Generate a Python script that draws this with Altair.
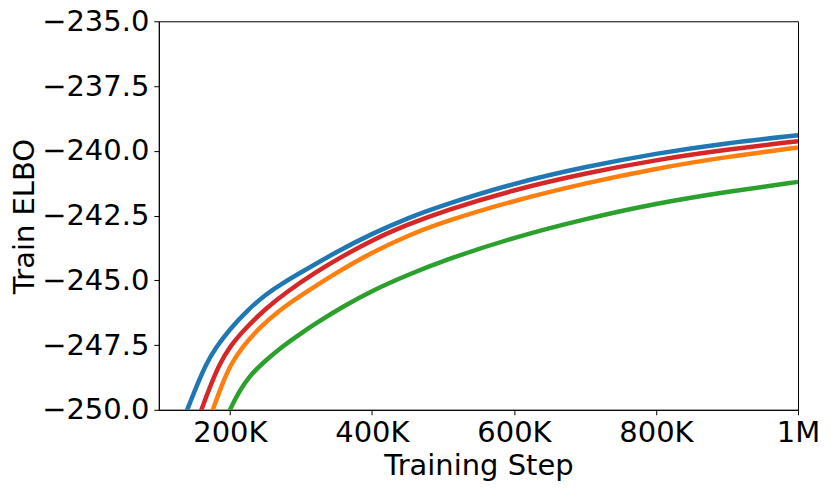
import altair as alt
import pandas as pd

# (training step, train ELBO)
steps_blue = [138000, 140000, 150000, 166000, 180000, 201000, 225000, 250000, 275000, 300000, 350000, 400000, 450000, 500000, 600000, 700000, 800000, 900000, 1000000]
elbo_blue = [-250.15, -250.0, -249.3, -248.25, -247.6, -246.85, -246.15, -245.55, -245.1, -244.7, -243.9, -243.2, -242.6, -242.1, -241.25, -240.62, -240.1, -239.7, -239.4]

steps_red = [158000, 160000, 170000, 185000, 200000, 222000, 250000, 280000, 320000, 360000, 400000, 450000, 500000, 600000, 700000, 800000, 900000, 1000000]
elbo_red = [-250.15, -250.0, -249.25, -248.25, -247.55, -246.85, -246.1, -245.45, -244.7, -244.05, -243.45, -242.85, -242.33, -241.5, -240.87, -240.35, -239.95, -239.63]

steps_orange = [174000, 176000, 188000, 200000, 218000, 241000, 270000, 302000, 350000, 400000, 450000, 500000, 600000, 700000, 800000, 900000, 1000000]
elbo_orange = [-250.15, -250.0, -249.1, -248.3, -247.55, -246.85, -246.15, -245.55, -244.7, -243.92, -243.28, -242.75, -241.92, -241.25, -240.68, -240.23, -239.87]

steps_green = [198000, 200000, 212000, 227000, 250000, 275000, 300000, 321000, 360000, 400000, 450000, 500000, 600000, 700000, 800000, 900000, 1000000]
elbo_green = [-250.15, -250.0, -249.35, -248.7, -248.1, -247.53, -247.05, -246.66, -246.0, -245.4, -244.8, -244.24, -243.34, -242.63, -242.03, -241.58, -241.2]

series_names = ["blue", "orange", "green", "red"]
series_colors = ["#1f77b4", "#ff7f0e", "#2ca02c", "#d62728"]

x_ticks = [200000, 400000, 600000, 800000, 1000000]
y_ticks = [-250.0, -247.5, -245.0, -242.5, -240.0, -237.5, -235.0]

rows = []
for name, xs, ys in [("blue", steps_blue, elbo_blue), ("orange", steps_orange, elbo_orange),
                     ("green", steps_green, elbo_green), ("red", steps_red, elbo_red)]:
    for i, (sx, sy) in enumerate(zip(xs, ys)):
        rows.append({"series": name, "step": sx, "elbo": sy, "order": i})
df = pd.DataFrame(rows)

FONT = "DejaVu Sans"

chart = alt.Chart(df).mark_line(strokeWidth=4.5, clip=True, interpolate="basis").encode(
    x=alt.X("step:Q",
            scale=alt.Scale(domain=[100000, 1000000], nice=False, zero=False),
            axis=alt.Axis(values=x_ticks,
                          labelExpr="datum.value >= 1000000 ? '1M' : format(datum.value/1000, 'd') + 'K'",
                          title="Training Step", grid=False, labelPadding=4,
                          titleY=65, titleBaseline="alphabetic")),
    y=alt.Y("elbo:Q",
            scale=alt.Scale(domain=[-250, -235], nice=False, zero=False),
            axis=alt.Axis(values=y_ticks, format=".1f", title="Train ELBO", grid=False,
                          titleAngle=-90, titleX=-125, titleY=195,
                          titleAlign="center", titleBaseline="alphabetic")),
    color=alt.Color("series:N", scale=alt.Scale(domain=series_names, range=series_colors), legend=None),
    detail="series:N",
    order="order:Q",
).properties(
    width=640, height=389,
    autosize=alt.AutoSizeParams(type="none"),
    padding={"left": 151, "top": 13, "right": 25, "bottom": 80},
).configure_view(
    stroke="black", strokeWidth=1
).configure_axis(
    domainColor="black", domainWidth=1, tickColor="black", tickWidth=1, tickSize=5,
    labelFont=FONT, labelFontSize=29, labelColor="black", labelPadding=5,
    titleFont=FONT, titleFontSize=29, titleFontWeight="normal", titleColor="black",
    labelOverlap=False, labelFlush=False,
)

chart.save("out.html", embed_options={"renderer": "svg", "actions": False})
